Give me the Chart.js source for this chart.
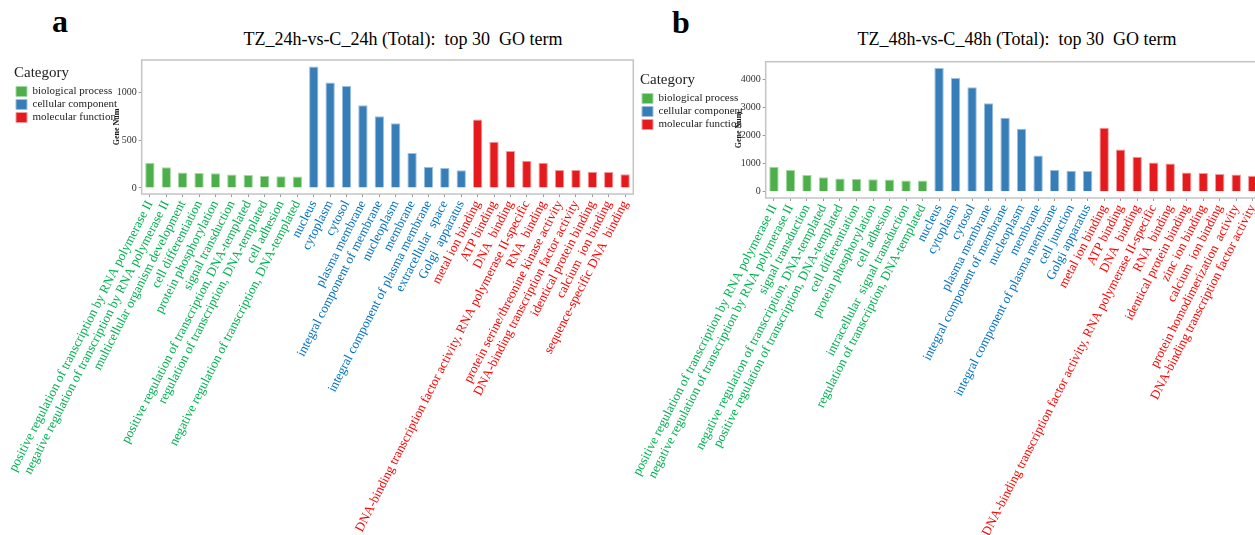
<!DOCTYPE html>
<html><head><meta charset="utf-8">
<script src="https://cdn.jsdelivr.net/npm/chart.js@4.4.1/dist/chart.umd.min.js"></script>
<style>
html,body{margin:0;padding:0;background:#fff;overflow:hidden;width:1255px;height:535px;}
.wrap{position:absolute;top:0;height:535px;}
.panel{position:absolute;font-family:"Liberation Serif","Times New Roman",serif;font-weight:bold;font-size:32px;line-height:32px;color:#000;}
.title{position:absolute;font-family:"Liberation Serif","Times New Roman",serif;font-size:18px;line-height:18px;white-space:pre;color:#000;text-align:center;width:500px;}
</style></head><body>
<div class="panel" style="left:52px;top:5px">a</div>
<div class="panel" style="left:672px;top:6px">b</div>
<div class="title" style="left:153px;top:30px">TZ_24h-vs-C_24h (Total):  top 30  GO term</div>
<div class="title" style="left:767px;top:30px">TZ_48h-vs-C_48h (Total):  top 30  GO term</div>
<div class="wrap" style="left:0;width:640px;"><canvas id="cA"></canvas></div>
<div class="wrap" style="left:626px;width:645px;"><canvas id="cB"></canvas></div>
<script>
// ---------- data ----------
const categoryNames = ['biological process', 'cellular component', 'molecular function'];

const bpTermsA = ['positive regulation of transcription by RNA polymerase II','negative regulation of transcription by RNA polymerase II','multicellular organism development','cell differentiation','protein phosphorylation','signal transduction','positive regulation of transcription, DNA-templated','regulation of transcription, DNA-templated','cell adhesion','negative regulation of transcription, DNA-templated'];
const bpCountsA = [264, 218, 161, 157, 154, 141, 136, 127, 122, 119];
const ccTermsA = ['nucleus','cytoplasm','cytosol','plasma membrane','integral component of membrane','nucleoplasm','membrane','integral component of plasma membrane','extracellular  space','Golgi  apparatus'];
const ccCountsA = [1275, 1108, 1070, 868, 753, 679, 366, 220, 209, 185];
const mfTermsA = ['metal ion binding','ATP binding','DNA  binding','DNA-binding transcription factor activity, RNA polymerase II-specific','RNA  binding','protein serine/threonine kinase activity','DNA-binding transcription factor activity','identical protein binding','calcium  ion binding','sequence-specific DNA  binding'];
const mfCountsA = [718, 484, 387, 286, 265, 188, 187, 170, 166, 144];
const yTicksA = [0, 500, 1000];

const bpTermsB = ['positive regulation of transcription by RNA polymerase II','negative regulation of transcription by RNA polymerase II','signal transduction','negative regulation of transcription, DNA-templated','positive regulation of transcription, DNA-templated','cell differentiation','protein phosphorylation','cell adhesion','intracellular  signal transduction','regulation of transcription, DNA-templated'];
const bpCountsB = [890, 772, 595, 515, 476, 452, 450, 440, 405, 403];
const ccTermsB = ['nucleus','cytoplasm','cytosol','plasma membrane','integral component of membrane','nucleoplasm','membrane','integral component of plasma membrane','cell junction','Golgi apparatus'];
const ccCountsB = [4404, 4047, 3715, 3145, 2635, 2243, 1294, 772, 748, 736];
const mfTermsB = ['metal ion binding','ATP binding','DNA  binding','DNA-binding transcription factor activity, RNA polymerase II-specific','RNA  binding','identical protein binding','zinc ion binding','calcium  ion binding','protein homodimerization  activity','DNA-binding transcription factor activity'];
const mfCountsB = [2279, 1507, 1246, 1040, 1005, 685, 672, 635, 612, 575];
const yTicksB = [0, 1000, 2000, 3000, 4000];

// ---------- styles ----------
const FONT = '"Liberation Serif", "Times New Roman", serif';
const barFill = ['#4DAF4A', '#377EB8', '#E41A1C'];
const barEdge = ['#a6d8a4', '#9bbfdc', '#f29a9b'];
const labelColor = ['#00B050', '#0070C0', '#FF0000'];

const framePlugin = {
  id: 'frame',
  afterLayout(chart) {
    // let the legend text run over the y-axis gutter, as in the original figure
    const lg = chart.legend;
    if (lg) { lg.width = 150; lg.right = lg.left + 150; }
  },
  beforeDatasetsDraw(chart) {
    const {ctx, chartArea: a} = chart;
    ctx.save();
    ctx.strokeStyle = '#c4c4c4';
    ctx.lineWidth = 1.5;
    ctx.strokeRect(a.left, a.top, a.right - a.left, a.bottom - a.top);
    ctx.restore();
  }
};

function makeChart(id, terms, counts, yTicks, L) {
  const labels = [].concat(...terms);
  const groupOf = [];
  terms.forEach((t, g) => t.forEach(() => groupOf.push(g)));
  const datasets = categoryNames.map((name, g) => {
    let k = 0;
    return {
      label: name,
      data: groupOf.map(gg => gg === g ? counts[g][k++] : null),
      backgroundColor: barFill[g],
      borderColor: barEdge[g],
      borderWidth: 1,
      barPercentage: 0.57,
      categoryPercentage: 1
    };
  });
  const canvas = document.getElementById(id);
  const W = canvas.parentNode.clientWidth, H = 535;
  return new Chart(canvas, {
    type: 'bar',
    data: {labels, datasets},
    plugins: [framePlugin],
    options: {
      animation: false, responsive: true, maintainAspectRatio: false, devicePixelRatio: 1,
      layout: {padding: {left: L.padLeft, top: L.top, right: W - L.right, bottom: 0}},
      plugins: {
        tooltip: {enabled: false},
        title: {display: false},
        legend: {
          position: 'left', align: 'start', maxWidth: L.legendWidth,
          title: {display: true, text: 'Category', position: 'start', color: '#222',
                  font: {family: FONT, size: 15}, padding: {top: L.legTitleTop, bottom: 0.5}},
          labels: {boxWidth: 11, boxHeight: 10, padding: 2, color: '#222', font: {family: FONT, size: 11}}
        }
      },
      scales: {
        x: {
          stacked: true, offset: true,
          grid: {display: true, offset: false, drawOnChartArea: false, drawTicks: true, tickLength: 3, color: '#9a9a9a'},
          border: {display: false},
          ticks: {autoSkip: false, maxRotation: 63, minRotation: 63, padding: 1,
                  font: {family: FONT, size: 13}, color: c => labelColor[groupOf[c.index]]},
          afterFit: s => { s.height = H - L.bottom; s.paddingLeft = 0; s.paddingRight = 0; }
        },
        y: {
          stacked: true, min: L.yMin, max: L.yMax,
          grid: {display: true, drawOnChartArea: false, drawTicks: true, tickLength: 3, color: '#9a9a9a'},
          border: {display: false},
          ticks: {padding: 2, color: '#333', font: {family: FONT, size: 10}, callback: v => String(v)},
          afterBuildTicks: s => { s.ticks = yTicks.map(v => ({value: v})); },
          title: {display: true, text: 'Gene Num', color: '#111',
                  font: {family: FONT, size: 8, weight: 'bold'}, padding: {top: 3.2, bottom: 0}},
          afterFit: s => { s.width = L.left - L.padLeft - s.chart.legend.width; }
        }
      }
    }
  });
}

makeChart('cA', [bpTermsA, ccTermsA, mfTermsA], [bpCountsA, ccCountsA, mfCountsA], yTicksA,
  {padLeft: 14, left: 141.7, right: 633.3, top: 60, bottom: 194, yMin: -64, yMax: 1344, legendWidth: 95, legTitleTop: 5.5});
makeChart('cB', [bpTermsB, ccTermsB, mfTermsB], [bpCountsB, ccCountsB, mfCountsB], yTicksB,
  {padLeft: 14, left: 139.7, right: 635, top: 61.7, bottom: 198, yMin: -220, yMax: 4626, legendWidth: 91, legTitleTop: 10.8});
</script>
</body></html>
